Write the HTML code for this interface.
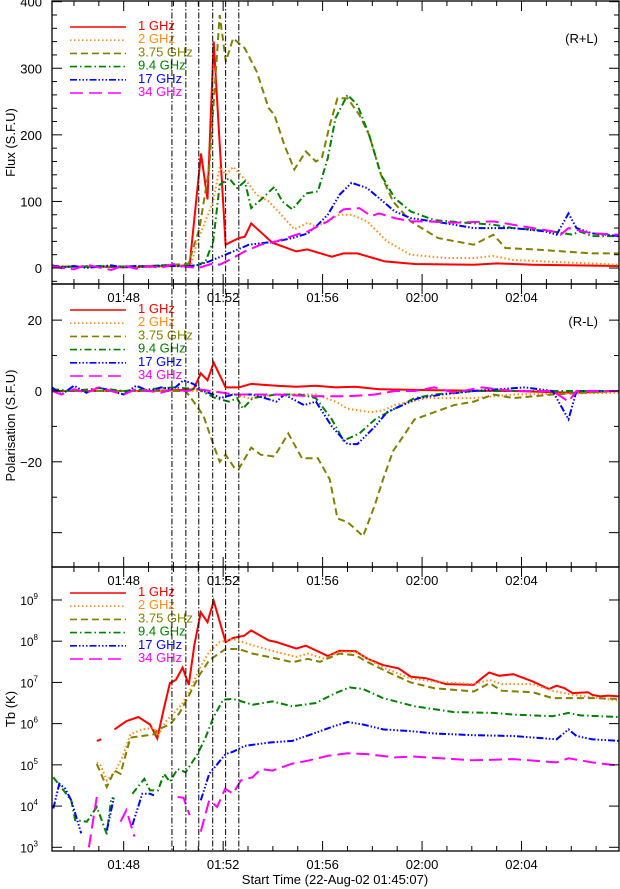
<!DOCTYPE html>
<html><head><meta charset="utf-8"><style>
html,body{margin:0;padding:0;background:#fff}
svg{display:block;font-family:"Liberation Sans",sans-serif}
</style></head><body>
<svg id="c" width="620" height="889" viewBox="0 0 620 889" xmlns="http://www.w3.org/2000/svg"></svg>
<script>
// ---- data (time in minutes after 01:45:00) ----
const tStart=0.117, tEnd=22.92;
const markerTimes=[4.94,5.5,6.02,6.58,7.1,7.63];
const xTickMinutes=[3,7,11,15,19];
const xTickLabels=["01:48","01:52","01:56","02:00","02:04"];
const freqLabels=["1 GHz","2 GHz","3.75 GHz","9.4 GHz","17 GHz","34 GHz"];
const colors=["#ff0000","#ff8c1a","#808000","#008000","#0000ff","#ff00ff"];
const dashes=["","1.5,2.5","7,4","7,3,1.5,3","7,2,1.5,2,1.5,2,1.5,2","13,6"];

// Flux (R+L)
const fluxT1=[0.12,1,2,3,4,5,5.65,6.11,6.37,6.62,7.1,7.63,7.87,8.13,8.98,9.94,10.38,11.37,11.84,12.4,13.51,14.7,17.08,18.03,19.46,22.92];
const fluxV1=[2,2,2,1,2,3,4,172,103,340,35,45,47,67,38,25,28,17,22,22,10,6,5,7,5,3];
const fluxT2=[0.12,2,4,5,5.7,5.97,6.6,6.86,7.11,7.4,7.95,8.35,8.83,9.46,9.86,10.41,10.73,11.68,12.16,12.79,13.59,14.54,15.97,17.08,17.87,18.67,21.05,22.92];
const fluxV2=[2,2,2,3,4,40,100,152,140,152,130,110,100,75,58,68,62,80,80,70,40,20,15,15,18,12,8,5];
const fluxT3=[0.12,2,4,4.9,5.6,6.05,6.44,6.86,7.11,7.4,7.87,8.35,8.83,9.06,9.46,9.86,10.33,10.73,10.97,11.29,11.6,12,12.48,12.87,13.35,13.83,14.54,15.65,17.08,17.87,18.35,19.46,21.84,22.92];
const fluxV3=[2,2,3,5,6,60,150,380,310,345,330,295,240,230,185,148,175,160,165,215,255,255,230,200,140,100,70,45,35,50,30,28,22,22];
const fluxT4=[0.12,1,2,3,4,5,5.9,6.29,6.6,6.86,7.24,7.56,7.87,8.13,8.59,9.06,9.38,9.78,10.33,10.81,11.21,11.52,12,12.4,12.87,13.35,13.9,14.54,15.49,16.76,17.87,18.67,20.25,21.05,21.33,21.84,22.92];
const fluxV4=[3,2,3,2,3,4,3,10,40,125,135,120,130,90,105,122,100,88,112,115,165,225,260,245,200,140,105,85,72,68,65,60,55,50,55,48,48];
const fluxT5=[0.12,0.5,1,1.5,2,2.5,3,3.5,4,4.5,5,5.5,6.05,6.44,7.1,8.03,9.14,9.78,10.41,10.81,11.21,11.68,12.16,12.79,13.43,13.9,14.54,15.81,17.08,18.67,19.94,20.41,20.89,21.21,21.84,22.92];
const fluxV5=[4,1,3,0,2,4,1,3,2,4,3,2,5,10,20,35,40,45,52,65,80,110,128,120,100,85,75,68,60,60,55,50,82,60,52,48];
const fluxT6=[0.12,0.5,1,1.5,2,2.5,3,3.5,4,4.5,5,5.5,6,6.6,6.86,7.4,7.87,8.51,9.14,9.94,10.41,11.21,11.84,12.48,12.95,13.27,13.9,14.54,15.17,16.29,17.87,19.46,20.25,20.57,20.89,21.84,22.92];
const fluxV6=[3,0,-2,5,1,-3,4,-1,3,0,6,2,0,7,5,15,25,35,40,50,55,70,88,90,78,82,75,70,70,68,70,60,55,50,60,52,50];

// Polarisation (R-L)
const polT1=[0.12,2,4,5.49,5.81,6.1,6.37,6.62,7.1,7.63,8.13,9.14,9.94,10.73,11.52,12.32,13.27,15.49,18.67,21.05,22.92];
const polV1=[0,0,0,0.3,0.5,5,3,8,1,1,2,1.5,1.2,1.5,1,1.2,0.5,0.2,0,-0.5,0];
const polT2=[0.12,3,6,7.1,8.03,9.14,10.73,11.52,12,12.95,13.43,13.9,15.17,17.08,18.67,22.92];
const polV2=[0,0,0,-0.5,-2,-1,-1,-3,-5,-6,-5.5,-4,-2,-2,-1,-0.5];
const polT3=[0.12,3,5.49,5.81,6.21,6.6,6.86,7.1,7.48,7.63,8.13,8.51,9.06,9.62,10.17,10.81,11.29,11.6,12,12.63,13.11,13.43,13.83,14.22,14.7,15.49,16.29,17.08,17.87,18.67,20.25,22.92];
const polV3=[0,0,0,-3,-7,-15,-20,-18,-22,-22,-16,-18,-18.5,-12,-19,-19,-25,-36,-37,-41,-32,-25,-17,-13,-8,-6,-4,-3,-1,-2,-1,0];
const polT4=[0.12,1,2,3,4,5,6,6.68,7.24,7.56,7.79,8.19,9.14,10.1,10.73,11.37,11.84,12.48,13.11,13.9,14.7,15.49,17.08,22.92];
const polV4=[0.5,0,0.8,0,0.5,1,0.5,-2,-3,-2,-5,-2,-1,-1,-2,-8,-14,-12,-8,-5,-2,-1,0,0];
const polT5=[0.12,0.5,1,1.5,2,2.5,3,3.5,4,4.5,5,5.4,5.8,6.2,6.6,6.9,7.4,8.19,9.14,9.46,10.25,10.73,11.37,12,12.4,13.11,13.59,14.22,14.86,15.81,17.08,19.14,20.25,20.89,21.21,22.92];
const polV5=[1,-1,1.5,-0.5,1,0,-1,1.5,0,1,0.5,3,2,0,-1,-2,-1,-1,-3,-1,-4,-3,-10,-15,-15,-10,-6,-4,-2,-1,0,1,0,-8,0,0];
const polT6=[0.12,0.5,1,1.5,2,2.5,3,3.5,4,4.5,5,5.5,6,6.5,7,7.4,9.14,10.73,12,13.11,13.9,14.7,15.49,16.29,17.4,18.67,20.25,20.89,21.21,22.92];
const polV6=[0,-1,0.5,-0.5,1,0,-1,0.5,0,-0.5,0.5,0,0.5,0,-0.5,-1,-1,-1.5,-1.5,-1,0,0,1,-0.5,1,0,0,-3,0,0];

// Brightness temperature, log10(Tb); null = gap
const tbT1=[1.92,2.1,2.32,2.63,3.11,3.59,4.06,4.35,4.62,4.86,5.1,5.37,5.62,5.84,6.1,6.37,6.62,7.1,7.4,7.84,8.13,8.83,9.14,9.94,10.33,11.21,11.68,12.32,12.79,13.43,14.06,14.54,15.17,15.97,17.08,17.4,17.7,18.1,18.67,19.46,20.1,20.41,20.73,21.05,21.68,21.84,22.16,22.48,22.92];
const tbV1=[5.58,5.62,null,5.86,6.06,6.16,5.98,5.64,6.38,6.98,7.06,7.36,6.94,7.9,8.7,8.46,8.98,7.98,8.08,8.13,8.26,8.02,7.98,7.82,7.89,7.64,7.77,7.76,7.58,7.42,7.34,7.14,7.1,6.96,6.94,7.1,7.24,7.16,7.2,7.02,6.84,6.92,6.86,6.74,6.76,6.7,6.66,6.68,6.66];
const tbT2=[1.92,2.08,2.32,2.63,2.95,3.27,3.75,4.22,4.38,4.7,5.02,5.33,5.65,6.05,6.44,6.86,7.4,8.19,9.14,9.94,10.41,11.05,11.68,12.32,13.43,14.54,15.49,17.08,17.71,18.2,19.46,20.25,21.05,21.84,22.92];
const tbV2=[5.06,4.98,4.62,4.82,5.18,5.74,5.86,5.9,5.7,6.06,6.26,6.46,6.78,7.34,7.74,7.98,8.05,7.9,7.74,7.62,7.7,7.58,7.74,7.74,7.36,7.1,7.02,6.96,7.06,6.96,6.96,6.8,6.7,6.64,6.56];
const tbT3=[1.92,2.32,2.63,2.87,3.27,3.75,4.22,4.38,4.86,5.25,5.57,6.05,6.44,7.1,7.63,8.19,9.14,9.78,10.41,10.89,11.68,12.32,12.79,13.59,14.54,15.49,17.08,17.71,18.2,19.46,20.25,21.84,22.92];
const tbV3=[5.02,4.46,4.86,4.78,5.66,5.7,5.74,5.86,5.98,6.26,6.62,7.18,7.54,7.81,7.81,7.7,7.58,7.49,7.57,7.5,7.7,7.66,7.5,7.26,7.0,6.86,6.78,6.98,6.8,6.76,6.62,6.62,6.6];
const tbT4=[0.17,0.89,1.05,1.52,1.92,2.32,2.5,2.63,null,3.35,3.83,4.06,4.38,4.62,4.86,5.17,5.49,5.97,6.29,6.6,7.0,7.4,8.19,8.98,9.78,10.73,11.52,12.08,12.63,13.43,14.7,16.29,17.87,18.67,20.25,20.89,21.37,22.92];
const tbV4=[4.7,4.14,3.66,3.62,3.98,3.32,4.2,4.18,null,4.3,4.66,4.38,4.38,4.78,4.59,4.9,4.82,5.26,5.66,6.14,6.58,6.6,6.46,6.54,6.42,6.5,6.74,6.88,6.84,6.62,6.42,6.28,6.26,6.22,6.18,6.26,6.2,6.16];
const tbT5=[0.17,0.41,0.65,0.89,1.29,null,2.32,2.6,null,3.35,3.75,4.06,4.22,null,6.1,6.44,7.1,7.4,7.87,8.83,9.78,10.73,11.37,12,12.63,13.43,14.54,15.49,17.08,18.67,20.41,20.89,21.21,21.84,22.92];
const tbV5=[3.94,4.54,4.42,4.14,3.34,null,3.41,4.18,null,3.54,4.3,4.3,4.26,null,4.14,4.78,5.26,5.32,5.46,5.54,5.58,5.78,5.92,6.04,5.98,5.86,5.82,5.76,5.72,5.7,5.62,5.86,5.7,5.62,5.58];
const tbT6=[1.6,1.92,null,2.87,3.11,3.43,null,5.17,5.41,5.65,null,6.1,6.44,6.76,7.08,7.4,7.71,8.19,8.51,8.98,9.78,10.41,11.21,12,12.79,13.9,14.7,17.08,18.67,20.41,20.89,21.84,22.92];
const tbV6=[3.0,4.22,null,3.62,3.9,3.26,null,4.22,4.2,3.78,null,3.38,4.14,3.98,4.42,4.3,4.62,4.7,4.9,4.86,5.03,5.1,5.22,5.28,5.26,5.18,5.2,5.11,5.14,5.06,5.16,5.06,4.98];

// ---- drawing ----
const svg=document.getElementById('c');
const NS='http://www.w3.org/2000/svg';
const L=52,R=619;
function X(t){return L+(t-tStart)/(tEnd-tStart)*(R-L);}
function mk(tag,attrs,parent){const e=document.createElementNS(NS,tag);for(const k in attrs)e.setAttribute(k,attrs[k]);(parent||svg).appendChild(e);return e;}
const panels=[
 {top:1,bot:284,vmin:-24,vmax:401,ticks:[0,100,200,300,400],labels:["0","100","200","300","400"],minor:[-20,20,40,60,80,120,140,160,180,220,240,260,280,320,340,360,380],title:"Flux (S.F.U)",tag:"(R+L)",series:[[fluxT1,fluxV1],[fluxT2,fluxV2],[fluxT3,fluxV3],[fluxT4,fluxV4],[fluxT5,fluxV5],[fluxT6,fluxV6]],name:"flux"},
 {top:284,bot:567,vmin:-49.7,vmax:30.2,ticks:[20,0,-20,-40],labels:["20","0","\u221220",""],minor:[-30,-10,10],title:"Polarisation (S.F.U)",tag:"(R-L)",series:[[polT1,polV1],[polT2,polV2],[polT3,polV3],[polT4,polV4],[polT5,polV5],[polT6,polV6]],name:"polarisation"},
 {top:567,bot:851,vmin:2.91,vmax:9.8,ticks:[3,4,5,6,7,8,9],labels:["3","4","5","6","7","8","9"],minor:[],title:"Tb (K)",tag:"",series:[[tbT1,tbV1],[tbT2,tbV2],[tbT3,tbV3],[tbT4,tbV4],[tbT5,tbV5],[tbT6,tbV6]],name:"tb",log:true}
];
panels.forEach((p,pi)=>{
  const g=mk('g',{});
  
  
  const Y=v=>p.bot-(v-p.vmin)/(p.vmax-p.vmin)*(p.bot-p.top);
  const clipId='clip'+pi;
  const cp=mk('clipPath',{id:clipId},g);mk('rect',{x:L,y:p.top,width:R-L,height:p.bot-p.top},cp);
  p.series.forEach((s,si)=>{
    const [ts,vs]=s;let d='',pen=false;
    for(let i=0;i<ts.length;i++){
      if(ts[i]===null||vs[i]===null){pen=false;continue;}
      d+=(pen?'L':'M')+X(ts[i]).toFixed(1)+','+Y(vs[i]).toFixed(1);pen=true;
    }
    const path=mk('path',{d:d,fill:'none',stroke:colors[si],'stroke-width':2,'stroke-dasharray':dashes[si],'clip-path':'url(#'+clipId+')'},g);
    
    
  });
  const fr=mk('rect',{x:L,y:p.top,width:R-L,height:p.bot-p.top,fill:'none',stroke:'#000','stroke-width':1.3},g);
  
  
  p.ticks.forEach((v,i)=>{
    const y=Y(v);
    mk('line',{x1:L,x2:L+10,y1:y,y2:y,stroke:'#000'},g);
    mk('line',{x1:R-10,x2:R,y1:y,y2:y,stroke:'#000'},g);
    if(!p.labels[i])return;
    if(p.log){
      const t=mk('text',{x:38,y:y+5,'font-size':12,'text-anchor':'end'},g);
      t.textContent='10';
      const s=mk('tspan',{dy:-6,'font-size':8},t);s.textContent=p.labels[i];
      
      
    } else {
      const t=mk('text',{x:42,y:y+5,'font-size':13,'text-anchor':'end'},g);
      t.textContent=p.labels[i];
      
      
    }
  });
  p.minor.forEach(v=>{const y=Y(v);mk('line',{x1:L,x2:L+5,y1:y,y2:y,stroke:'#000'},g);mk('line',{x1:R-5,x2:R,y1:y,y2:y,stroke:'#000'},g);});
  for(let m=1;m<=22;m++){
    const x=X(m);const big=xTickMinutes.includes(m);const len=big?10:5;
    mk('line',{x1:x,x2:x,y1:p.bot,y2:p.bot-len,stroke:'#000'},g);
    mk('line',{x1:x,x2:x,y1:p.top,y2:p.top+len,stroke:'#000'},g);
  }
  const ly=p.bot+18;
  xTickMinutes.forEach((m,i)=>{
    const t=mk('text',{x:X(m),y:ly,'font-size':13,'text-anchor':'middle'},g);
    t.textContent=xTickLabels[i];
    
    
  });
  const cy=(p.top+p.bot)/2;
  const yt=mk('text',{x:0,y:0,'font-size':13,'text-anchor':'middle',transform:'translate(15,'+cy+') rotate(-90)'},g);
  yt.textContent=p.title;
  
  
  if(p.tag){const tg=mk('text',{x:598,y:p.top+42,'font-size':13,'text-anchor':'end'},g);tg.textContent=p.tag;
    
    }
  const lg=mk('g',{},g);
  
  
  const ly0=p.top+23;
  freqLabels.forEach((f,i)=>{
    const y=ly0+i*13.2;
    mk('line',{x1:70,x2:126,y1:y+3,y2:y+3,stroke:colors[i],'stroke-width':1.6,'stroke-dasharray':dashes[i]},lg);
    const t=mk('text',{x:138,y:y+6,'font-size':13,fill:colors[i]},lg);
    t.textContent=f;
    
    
  });
});
markerTimes.forEach(t=>{
  const ln=mk('line',{x1:X(t),x2:X(t),y1:1,y2:851,stroke:'#000','stroke-width':1,'stroke-dasharray':'6,2,1.5,2'});
  
  
});
const xt=mk('text',{x:335,y:884,'font-size':13,'text-anchor':'middle'});
xt.textContent='Start Time (22-Aug-02 01:45:07)';


</script>
</body></html>
